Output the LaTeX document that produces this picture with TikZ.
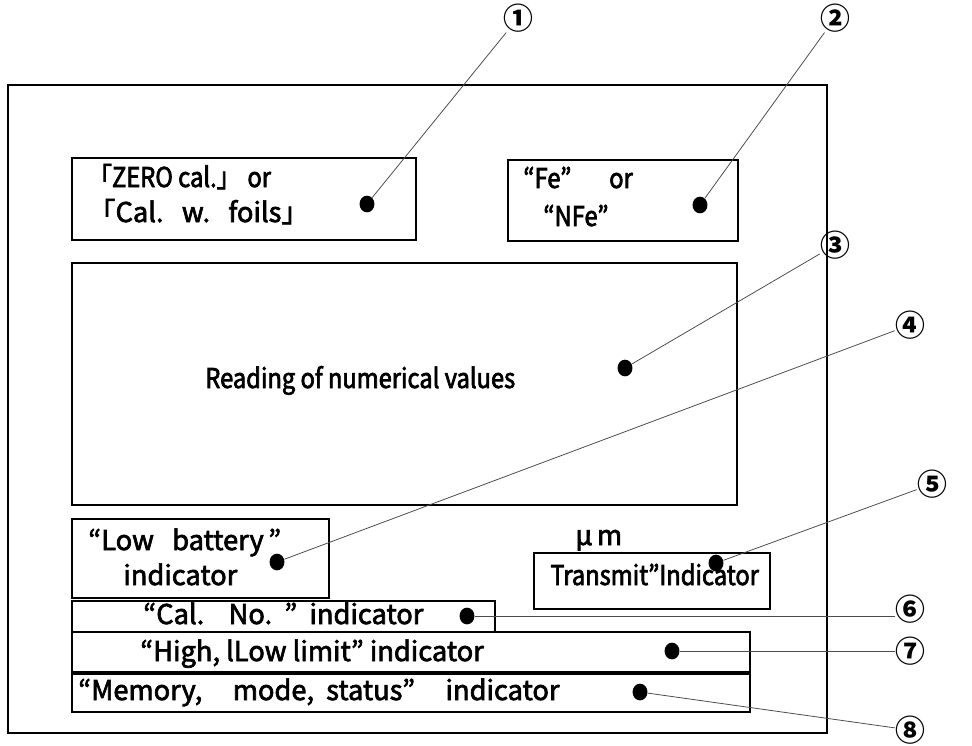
\documentclass[tikz,border=0pt]{standalone}
\usepackage{fontspec}
\setmainfont{Noto Sans CJK JP}
\newfontfamily\narrowfont[FakeStretch=0.87,FakeBold=2.5]{Noto Sans CJK JP}
\newfontfamily\widefont[FakeBold=2.5]{Noto Sans CJK JP}
\usetikzlibrary{shapes.geometric}
\usetikzlibrary{positioning}

\begin{document}
\begin{tikzpicture}[x=0.02cm, y=-0.02cm,
        every node/.style={inner sep=0pt},
        narrow/.style={anchor=base west, font=\narrowfont\fontsize{15.5}{18}\selectfont},
        wide/.style={anchor=base west, font=\widefont\fontsize{15.5}{18}\selectfont},
        panel/.style={draw, line width=0.8pt},
        dot/.style={ellipse, fill, inner sep=0pt, minimum width=8.5pt, minimum height=9.5pt},
        num/.style={inner sep=0pt, font=\bfseries\fontsize{17}{19}\selectfont},
        lead/.style={draw=black!70, line width=0.45pt},
      ]
      \useasboundingbox (0,0) rectangle (972,745);

      % frame and display fields
      \draw[panel] (8,85) rectangle (827,733);
      \draw[panel] (72,158) rectangle (416,240);
      \draw[panel] (508,160) rectangle (738,241);
      \draw[panel] (72,263) rectangle (737,505);
      \draw[panel] (72,519) rectangle (329,598);
      \draw[panel] (534,553) rectangle (770,609);
      \draw[panel] (72,601) rectangle (495,632);
      \draw[panel] (72,632) rectangle (750,672);
      \draw[panel] (72,674) rectangle (750,712);

      % texts
      \node[narrow] (t1a) at (88,187) {「ZERO cal.」 or};
      \node[wide] (t1b) at (88,222) {「Cal.\ \ \ w.\ \ \ foils」};
      \node[narrow] (t2a) at (523,188) {“Fe”\quad\ \ or};
      \node[narrow] (t2b) at (543,226) {“NFe”};
      \node[narrow] (t3) at (205,388) {Reading of numerical values};
      \node[wide] (t4a) at (88,550) {“Low\ \ \ battery\,”};
      \node[wide] (t4b) at (123,585) {indicator};
      \node[wide] (um) at (575,545) {μ\,m};
      \node[narrow] (t5) at (550,585) {Transmit”Indicator};
      \node[wide] (t6) at (143,624) {“Cal.\ \ \ \ No.\ \ ”\ \ indicator};
      \node[wide] (t7) at (140,661) {“High, lLow\ limit”\ indicator};
      \node[wide] (t8) at (78,700) {“Memory,\ \ \ \ \ mode,\ \ status”\ \ \ \ \ indicator};

      % markers
      \node[dot] (d1) at (367,204) {};
      \node[dot] (d2) at (700,205) {};
      \node[dot] (d3) at (625,368) {};
      \node[dot] (d4) at (277,562) {};
      \node[dot] (d5) at (716,563) {};
      \node[dot] (d6) at (467,616) {};
      \node[dot] (d7) at (672,651) {};
      \node[dot] (d8) at (640,692) {};

      \node[num] (1) at (518,18) {①};
      \node[num] (2) at (835,18) {②};
      \node[num] (3) at (835,245) {③};
      \node[num] (4) at (910,325) {④};
      \node[num] (5) at (932,484) {⑤};
      \node[num] (6) at (910,609) {⑥};
      \node[num] (7) at (910,651) {⑦};
      \node[num] (8) at (910,730) {⑧};

      \draw[lead] (d1) -- (1);
      \draw[lead] (d2) -- (2);
      \draw[lead] (d3) -- (3);
      \draw[lead] (d4) -- (4);
      \draw[lead] (d5) -- (5);
      \draw[lead] (d6) -- (6.west |- d6);
      \draw[lead] (d7) -- (7);
      \draw[lead] (d8) -- (8);
    \end{tikzpicture}
\end{document}
